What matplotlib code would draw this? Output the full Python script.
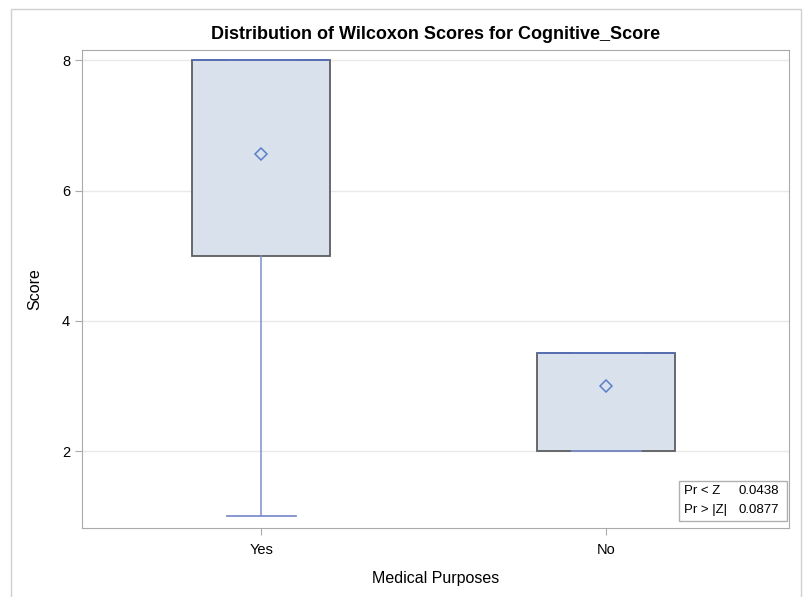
import matplotlib
matplotlib.use("Agg")
import matplotlib.pyplot as plt
from matplotlib.patches import Rectangle

plt.rcParams['font.family'] = ['Liberation Sans', 'DejaVu Sans']

# data
groups = ["Yes", "No"]
q1 = [5.0, 2.0]
q3 = [8.0, 3.5]
medians = [8.0, 3.5]
whisk_lo = [1.0, 2.0]
whisk_hi = [8.0, 3.5]
means = [6.57, 3.0]
stat_labels = ["Pr < Z", "Pr > |Z|"]
stat_values = ["0.0438", "0.0877"]
yticks = [2, 4, 6, 8]

fill_col = "#d9e1ec"
edge_col = "#5c5e60"
line_col = "#7f8fcc"
mean_col = "#5b7fc9"

fig = plt.figure(figsize=(8.05, 5.97), dpi=100)
ax = fig.add_axes([82/805, 1-528/597, (789-82)/805, (528-50)/597])

stats = []
for i, g in enumerate(groups):
    stats.append(dict(label=g, q1=q1[i], q3=q3[i], med=medians[i],
                      whislo=whisk_lo[i], whishi=whisk_hi[i], mean=means[i], fliers=[]))

ax.bxp(stats, positions=range(len(groups)), widths=0.4, patch_artist=True,
       showmeans=True, meanline=False,
       boxprops=dict(facecolor=fill_col, edgecolor=edge_col, linewidth=1.3),
       medianprops=dict(color="#5670b8", linewidth=1.3),
       whiskerprops=dict(color=line_col, linewidth=1.1),
       capprops=dict(color=line_col, linewidth=1.3),
       capwidths=0.2,
       meanprops=dict(marker="D", markerfacecolor="none", markeredgecolor=mean_col,
                      markersize=6.5, markeredgewidth=1.1))

ax.set_xlim(-0.52, 1.53)
ax.set_ylim(0.82, 8.16)
ax.set_yticks(yticks)
ax.set_xticks(range(len(groups)))
ax.set_xticklabels(groups)
ax.yaxis.grid(True, color="#e9e9e9", linewidth=1)
ax.set_axisbelow(True)
for s in ax.spines.values():
    s.set_color("#a8abab")
ax.tick_params(colors="#a8abab", labelcolor="black", labelsize=10.5, length=5)
ax.tick_params(axis="x", pad=6)
ax.set_xlabel("Medical Purposes", fontsize=11.5, labelpad=10)
ax.set_ylabel("Score", fontsize=11.5, labelpad=14)
ax.set_title("Distribution of Wilcoxon Scores for Cognitive_Score", fontsize=13,
             fontweight="bold", pad=8)

# inset statistics box
ax.add_patch(Rectangle((679/805, 1-521/597), (787-679)/805, 40/597, transform=fig.transFigure,
                       facecolor="white", edgecolor="#b0b0b0", linewidth=1, zorder=5))
for k in range(len(stat_labels)):
    yy = 1-(491+19*k)/597
    fig.text(684/805, yy, stat_labels[k], fontsize=9.5, va="center", ha="left", zorder=6)
    fig.text(779/805, yy, stat_values[k], fontsize=9.5, va="center", ha="right", zorder=6)

# outer frame
fig.patches.append(Rectangle((11/805, -0.1), (801-11)/805, 1.1-9/597, transform=fig.transFigure,
                             fill=False, edgecolor="#d0d0d0", linewidth=1))

fig.savefig("out.png", dpi=100)
